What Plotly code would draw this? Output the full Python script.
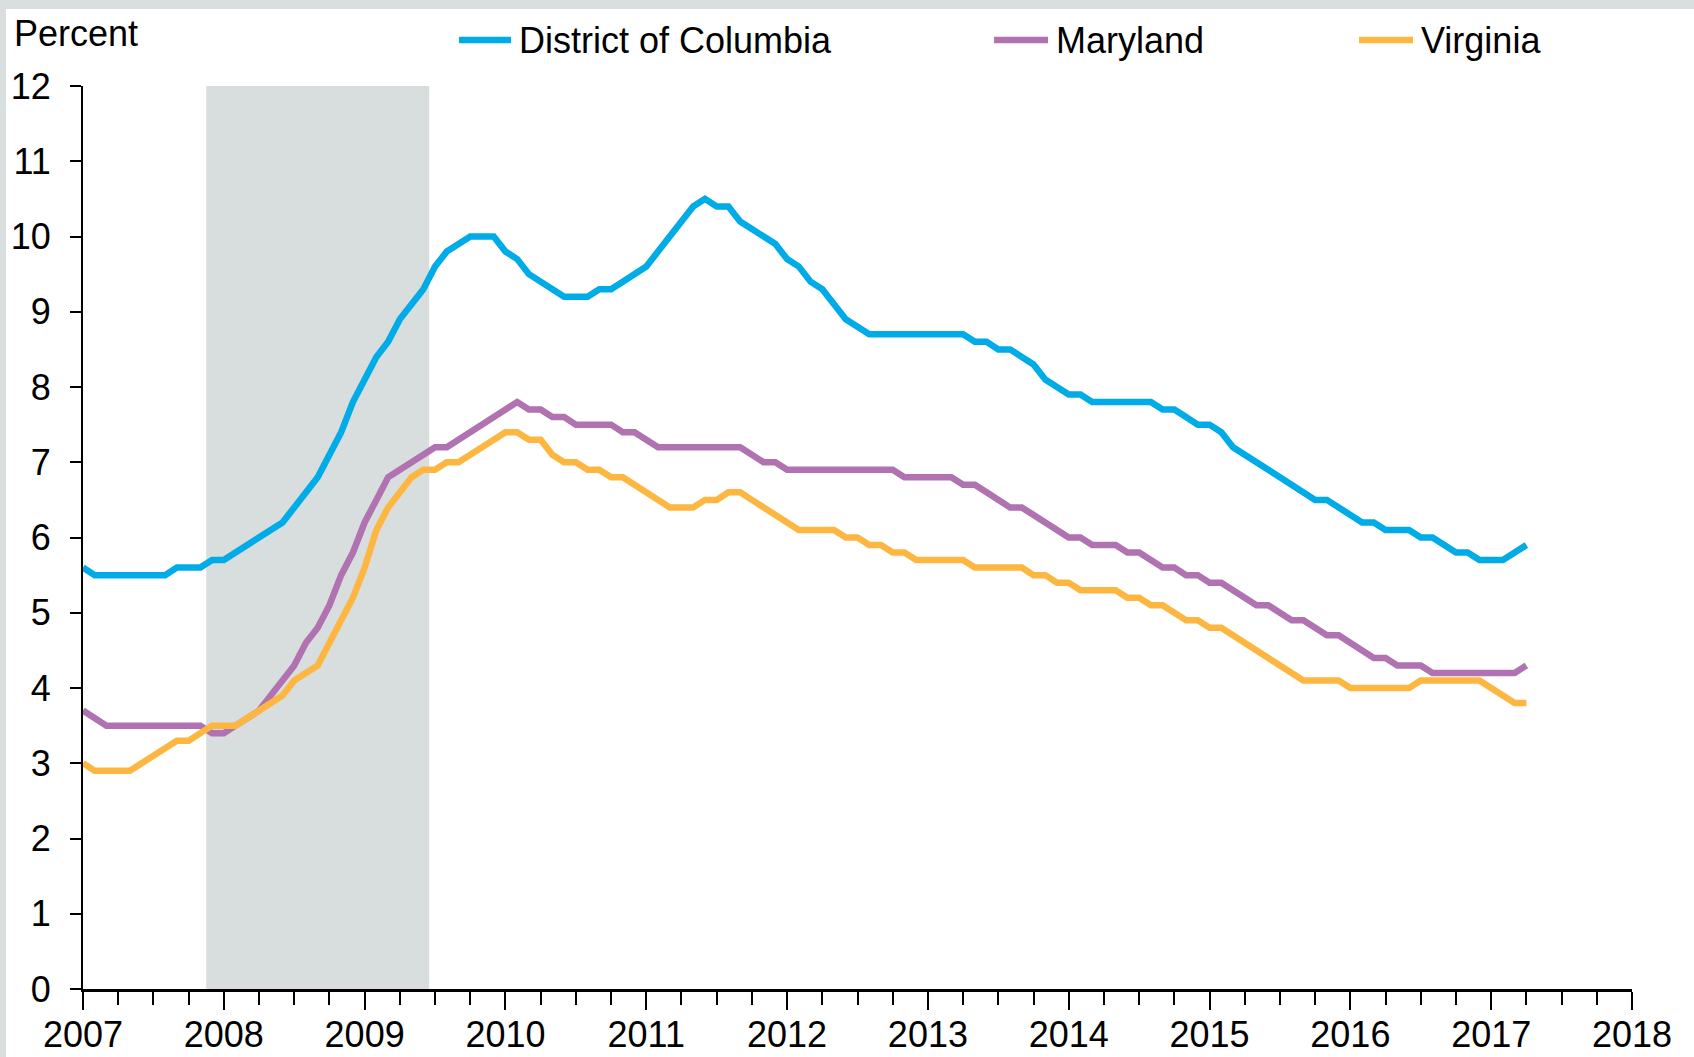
import plotly.graph_objects as go

# ---------------- data (monthly unemployment rate, percent; Jan 2007 - Apr 2017) ----------------
start_year = 2007
series_names = ["District of Columbia", "Maryland", "Virginia"]

dc = [5.6, 5.5, 5.5, 5.5, 5.5, 5.5, 5.5, 5.5, 5.6, 5.6, 5.6, 5.7,
      5.7, 5.8, 5.9, 6.0, 6.1, 6.2, 6.4, 6.6, 6.8, 7.1, 7.4, 7.8,
      8.1, 8.4, 8.6, 8.9, 9.1, 9.3, 9.6, 9.8, 9.9, 10.0, 10.0, 10.0,
      9.8, 9.7, 9.5, 9.4, 9.3, 9.2, 9.2, 9.2, 9.3, 9.3, 9.4, 9.5,
      9.6, 9.8, 10.0, 10.2, 10.4, 10.5, 10.4, 10.4, 10.2, 10.1, 10.0, 9.9,
      9.7, 9.6, 9.4, 9.3, 9.1, 8.9, 8.8, 8.7, 8.7, 8.7, 8.7, 8.7,
      8.7, 8.7, 8.7, 8.7, 8.6, 8.6, 8.5, 8.5, 8.4, 8.3, 8.1, 8.0,
      7.9, 7.9, 7.8, 7.8, 7.8, 7.8, 7.8, 7.8, 7.7, 7.7, 7.6, 7.5,
      7.5, 7.4, 7.2, 7.1, 7.0, 6.9, 6.8, 6.7, 6.6, 6.5, 6.5, 6.4,
      6.3, 6.2, 6.2, 6.1, 6.1, 6.1, 6.0, 6.0, 5.9, 5.8, 5.8, 5.7,
      5.7, 5.7, 5.8, 5.9]

md = [3.7, 3.6, 3.5, 3.5, 3.5, 3.5, 3.5, 3.5, 3.5, 3.5, 3.5, 3.4,
      3.4, 3.5, 3.6, 3.7, 3.9, 4.1, 4.3, 4.6, 4.8, 5.1, 5.5, 5.8,
      6.2, 6.5, 6.8, 6.9, 7.0, 7.1, 7.2, 7.2, 7.3, 7.4, 7.5, 7.6,
      7.7, 7.8, 7.7, 7.7, 7.6, 7.6, 7.5, 7.5, 7.5, 7.5, 7.4, 7.4,
      7.3, 7.2, 7.2, 7.2, 7.2, 7.2, 7.2, 7.2, 7.2, 7.1, 7.0, 7.0,
      6.9, 6.9, 6.9, 6.9, 6.9, 6.9, 6.9, 6.9, 6.9, 6.9, 6.8, 6.8,
      6.8, 6.8, 6.8, 6.7, 6.7, 6.6, 6.5, 6.4, 6.4, 6.3, 6.2, 6.1,
      6.0, 6.0, 5.9, 5.9, 5.9, 5.8, 5.8, 5.7, 5.6, 5.6, 5.5, 5.5,
      5.4, 5.4, 5.3, 5.2, 5.1, 5.1, 5.0, 4.9, 4.9, 4.8, 4.7, 4.7,
      4.6, 4.5, 4.4, 4.4, 4.3, 4.3, 4.3, 4.2, 4.2, 4.2, 4.2, 4.2,
      4.2, 4.2, 4.2, 4.3]

va = [3.0, 2.9, 2.9, 2.9, 2.9, 3.0, 3.1, 3.2, 3.3, 3.3, 3.4, 3.5,
      3.5, 3.5, 3.6, 3.7, 3.8, 3.9, 4.1, 4.2, 4.3, 4.6, 4.9, 5.2,
      5.6, 6.1, 6.4, 6.6, 6.8, 6.9, 6.9, 7.0, 7.0, 7.1, 7.2, 7.3,
      7.4, 7.4, 7.3, 7.3, 7.1, 7.0, 7.0, 6.9, 6.9, 6.8, 6.8, 6.7,
      6.6, 6.5, 6.4, 6.4, 6.4, 6.5, 6.5, 6.6, 6.6, 6.5, 6.4, 6.3,
      6.2, 6.1, 6.1, 6.1, 6.1, 6.0, 6.0, 5.9, 5.9, 5.8, 5.8, 5.7,
      5.7, 5.7, 5.7, 5.7, 5.6, 5.6, 5.6, 5.6, 5.6, 5.5, 5.5, 5.4,
      5.4, 5.3, 5.3, 5.3, 5.3, 5.2, 5.2, 5.1, 5.1, 5.0, 4.9, 4.9,
      4.8, 4.8, 4.7, 4.6, 4.5, 4.4, 4.3, 4.2, 4.1, 4.1, 4.1, 4.1,
      4.0, 4.0, 4.0, 4.0, 4.0, 4.0, 4.1, 4.1, 4.1, 4.1, 4.1, 4.1,
      4.0, 3.9, 3.8, 3.8]

year_ticks = list(range(2007, 2019))
y_ticks = list(range(0, 13))

# recession (NBER): Dec 2007 - Jun 2009, (year, month)
recession_start = (2007, 12)
recession_end = (2009, 6)

# ---------------- styling ----------------
colors = ["#00ACE8", "#B072B0", "#FDB741"]
FONT = "Liberation Sans, Arial, sans-serif"
W, H = 1694, 1057
L, R, T, B = 83, 62, 86, 68
pw, ph = W - L - R, H - T - B


def px_x(px):
    return (px - L) / pw


def px_y(py):
    return 1 - (py - T) / ph


def month_pos(ym, offset):
    y, m = ym
    return y + (m - 1 + offset) / 12.0


x = [start_year + i / 12.0 for i in range(len(dc))]

fig = go.Figure()
for name, vals, col in zip(series_names, [dc, md, va], colors):
    fig.add_trace(go.Scatter(x=x, y=vals, mode="lines", name=name,
                             line=dict(color=col, width=6.5),
                             showlegend=False, cliponaxis=False))

shapes = [
    # white card inside the grey frame (frame visible on top and left)
    dict(type="rect", xref="paper", yref="paper", layer="below",
         x0=px_x(6), x1=px_x(W + 20), y0=px_y(H + 20), y1=px_y(9),
         fillcolor="white", line=dict(width=0)),
    # recession shading
    dict(type="rect", xref="x", yref="paper", layer="below",
         x0=month_pos(recession_start, -0.5), x1=month_pos(recession_end, 0.5),
         y0=0, y1=1, fillcolor="#D8DDDD", line=dict(width=0)),
]

annotations = [
    dict(text="Percent", xref="paper", yref="paper", x=px_x(12), y=px_y(33),
         xanchor="left", yanchor="middle", showarrow=False,
         font=dict(family=FONT, size=36, color="black")),
]

# manual legend (line sample + label)
legend_y = 40
legend_layout = [(459, 511, 517), (994, 1048, 1054), (1359, 1413, 1419)]
for name, col, (lx0, lx1, tx) in zip(series_names, colors, legend_layout):
    shapes.append(dict(type="line", xref="paper", yref="paper",
                       x0=px_x(lx0), x1=px_x(lx1), y0=px_y(legend_y), y1=px_y(legend_y),
                       line=dict(color=col, width=6.5)))
    annotations.append(dict(text=name, xref="paper", yref="paper",
                            x=px_x(tx), y=px_y(legend_y), xanchor="left", yanchor="middle",
                            showarrow=False, font=dict(family=FONT, size=36, color="black")))

fig.update_layout(
    width=W, height=H,
    margin=dict(l=L, r=R, t=T, b=B, pad=0, autoexpand=False),
    paper_bgcolor="#D9DEDE",
    plot_bgcolor="white",
    font=dict(family=FONT, size=36, color="black"),
    shapes=shapes,
    annotations=annotations,
    showlegend=False,
)

fig.update_xaxes(
    automargin=False,
    range=[year_ticks[0], year_ticks[-1]],
    tickmode="array", tickvals=year_ticks, ticktext=[str(t) for t in year_ticks],
    ticks="outside", ticklen=18, tickwidth=2, tickcolor="black",
    showline=True, linecolor="black", linewidth=3,
    showgrid=False, zeroline=False,
    ticklabelstandoff=-6,
    tickfont=dict(family=FONT, size=36, color="black"),
    minor=dict(dtick=0.25, tick0=year_ticks[0], ticks="outside", ticklen=13,
               tickwidth=2, tickcolor="black", showgrid=False),
)
fig.update_yaxes(
    automargin=False,
    range=[y_ticks[0], y_ticks[-1]],
    tickmode="array", tickvals=y_ticks, ticktext=[str(t) for t in y_ticks],
    ticks="outside", ticklen=11, tickwidth=2, tickcolor="black",
    showline=True, linecolor="black", linewidth=2,
    showgrid=False, zeroline=False,
    ticklabelstandoff=12,
    tickfont=dict(family=FONT, size=36, color="black"),
)

fig.write_html("out.html",
               config={"displayModeBar": False},
               post_script="document.body.style.margin='0px';document.body.style.overflow='hidden';")
